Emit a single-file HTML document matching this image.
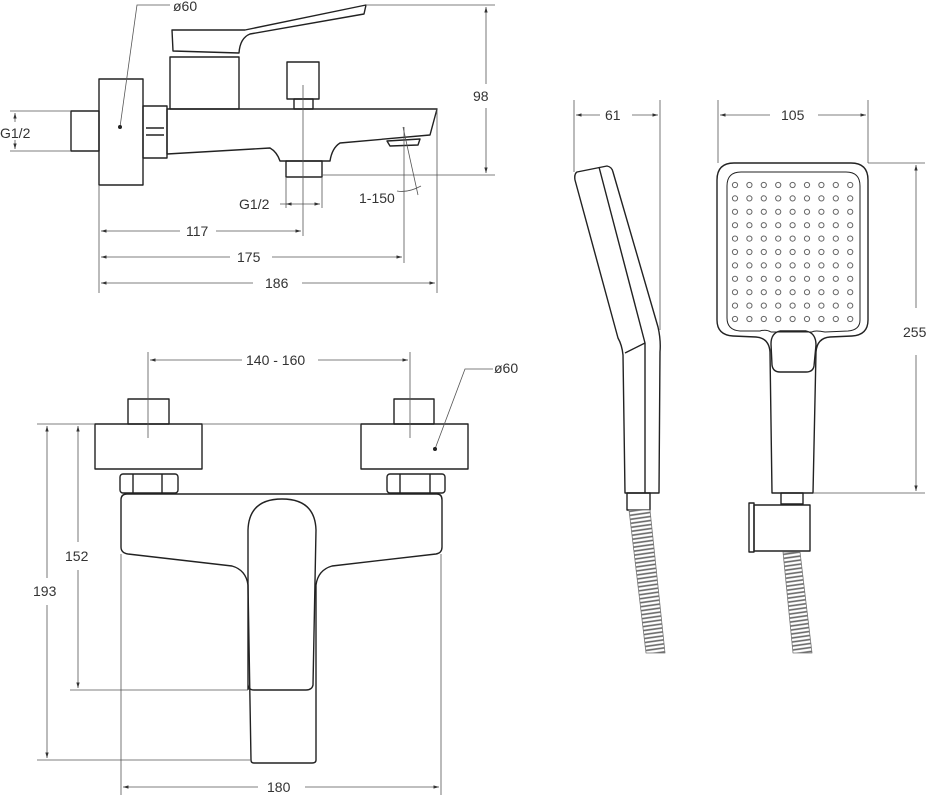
<!DOCTYPE html>
<html><head><meta charset="utf-8"><style>
html,body{margin:0;padding:0;background:#fff;}
svg{display:block;}
text{font-family:"Liberation Sans",sans-serif;font-size:14px;fill:#333;}
</style></head><body>
<svg width="930" height="802" viewBox="0 0 930 802" xmlns="http://www.w3.org/2000/svg">
<defs>
<marker id="a" viewBox="0 0 10 10" refX="10" refY="5" markerWidth="7" markerHeight="7" orient="auto-start-reverse"><path d="M0,2 L10,5 L0,8 z" fill="#333"/></marker>
<pattern id="coil" width="6" height="4" patternUnits="userSpaceOnUse" patternTransform="rotate(-8)"><rect width="6" height="4" fill="#fff"/><line x1="0" y1="2" x2="6" y2="2" stroke="#666" stroke-width="1.6"/></pattern>
</defs>
<g fill="none" stroke="#222" stroke-width="1.4" stroke-linejoin="round">
<rect x="71" y="111" width="28" height="40"/>
<rect x="99" y="79" width="44" height="106"/>
<rect x="143" y="106" width="24" height="52"/>
<line x1="146" y1="128" x2="164" y2="128"/><line x1="146" y1="135" x2="164" y2="135"/>
<path d="M167,109 L437,109 L430,135 L340,143 Q332,148 330,161 L280,161 Q277,152 270,148 L167,154 Z"/>
<rect x="286" y="161" width="36" height="16"/>
<path d="M387,141 L420,139 L418,145 L390,146 Z"/>
<rect x="170" y="57" width="69" height="52"/>
<path d="M172,30 L245,30 L366,5 L364,14 L250,34 Q240,38 239,53 L173,51 Z"/>
<rect x="287" y="62" width="32" height="37"/>
<rect x="294" y="99" width="19" height="10"/>
<rect x="128" y="399" width="41" height="25"/>
<rect x="95" y="424" width="107" height="45"/>
<rect x="394" y="399" width="40" height="25"/>
<rect x="361" y="424" width="107" height="45"/>
<rect x="120" y="474" width="58" height="19" rx="3"/>
<line x1="133" y1="474" x2="133" y2="493"/><line x1="162" y1="474" x2="162" y2="493"/>
<rect x="387" y="474" width="58" height="19" rx="3"/>
<line x1="400" y1="474" x2="400" y2="493"/><line x1="430" y1="474" x2="430" y2="493"/>
<path d="M125,494 L437,494 Q442,494 442,500 L442,547 Q442,553 436,554 L332,566 Q318,570 316,585 L316,760 Q316,763 312,763 L254,763 Q251,763 251,760 L248,585 Q246,570 232,566 L128,554 Q121,553 121,547 L121,500 Q121,494 127,494 Z"/>
<path d="M248,690 L248,530 Q249,499 282,499 Q315,499 316,530 L313,685 Q312,690 306,690 L254,690 Q248,690 248,684"/>
<path d="M577,172 L607,166 Q612,167 613,172 L658,327 Q661,340 660,352 L659,493 L625,493 L623,355 Q622,345 618,338 L575,180 Q574,174 577,172 Z"/>
<path d="M599,167 L645,343 L645,493"/><line x1="625" y1="353" x2="645" y2="343"/>
<rect x="627" y="493" width="23" height="17"/>
<polygon points="629,510 650,510 665,653 646,653" fill="url(#coil)" stroke="#777" stroke-width="0.8"/>
<path d="M734,163 L851,163 Q868,163 868,180 L868,320 Q868,335 852,336 L830,337 Q817,338 816,352 L813,493 L772,493 L770,352 Q769,338 756,337 L733,336 Q717,335 717,320 L717,180 Q717,163 734,163 Z"/>
<path d="M741,172 L846,172 Q860,172 860,186 L860,320 Q860,330 848,331 L825,332 Q815,330 812,332 L771,332 Q766,329 760,331 L740,331 Q727,330 727,318 L727,186 Q727,172 741,172 Z" stroke-width="1"/>
<path d="M780,331 L806,331 Q816,333 816,345 L814,366 Q813,372 806,372 L780,372 Q773,372 772,365 L771,344 Q771,333 780,331 Z"/>
<rect x="781" y="493" width="22" height="11"/>
<rect x="749" y="503" width="5" height="49"/>
<rect x="754" y="505" width="56" height="46"/>
<polygon points="783,552 800,552 812,653 793,653" fill="url(#coil)" stroke="#777" stroke-width="0.8"/>
</g>
<g fill="none" stroke="#666" stroke-width="1">
<g id="row">
<circle cx="735" cy="185" r="2.6"/><circle cx="749.4" cy="185" r="2.6"/><circle cx="763.8" cy="185" r="2.6"/><circle cx="778.2" cy="185" r="2.6"/><circle cx="792.6" cy="185" r="2.6"/><circle cx="807" cy="185" r="2.6"/><circle cx="821.4" cy="185" r="2.6"/><circle cx="835.8" cy="185" r="2.6"/><circle cx="850.2" cy="185" r="2.6"/>
</g>
<use href="#row" y="13.4"/><use href="#row" y="26.8"/><use href="#row" y="40.2"/><use href="#row" y="53.6"/><use href="#row" y="67"/><use href="#row" y="80.4"/><use href="#row" y="93.8"/><use href="#row" y="107.2"/><use href="#row" y="120.6"/><use href="#row" y="134"/>
</g>
<g stroke="#555" stroke-width="0.8" fill="none">
<line x1="367" y1="5" x2="495" y2="5"/><line x1="322" y1="175" x2="495" y2="175"/>
<line x1="486" y1="7" x2="486" y2="84" marker-start="url(#a)"/><line x1="486" y1="108" x2="486" y2="173" marker-end="url(#a)"/>
<line x1="10" y1="111" x2="71" y2="111"/><line x1="10" y1="151" x2="71" y2="151"/>
<line x1="15" y1="113" x2="15" y2="122" marker-start="url(#a)"/><line x1="15" y1="140" x2="15" y2="149" marker-end="url(#a)"/>
<polyline points="120,127 137,5 170,5"/>
<line x1="286" y1="177" x2="286" y2="208"/><line x1="322" y1="177" x2="322" y2="208"/>
<line x1="280" y1="204" x2="320" y2="204" marker-end="url(#a)"/><line x1="292" y1="204" x2="286" y2="204" marker-end="url(#a)"/>
<line x1="403" y1="127" x2="418" y2="195"/><path d="M397,191 Q408,193 421,186"/>
<line x1="303" y1="85" x2="303" y2="236"/><line x1="404" y1="127" x2="404" y2="263"/>
<line x1="437" y1="109" x2="437" y2="293"/><line x1="99" y1="185" x2="99" y2="293"/>
<line x1="101" y1="231" x2="180" y2="231" marker-start="url(#a)"/><line x1="216" y1="231" x2="301" y2="231" marker-end="url(#a)"/>
<line x1="101" y1="257" x2="230" y2="257" marker-start="url(#a)"/><line x1="272" y1="257" x2="402" y2="257" marker-end="url(#a)"/>
<line x1="101" y1="283" x2="253" y2="283" marker-start="url(#a)"/><line x1="302" y1="283" x2="435" y2="283" marker-end="url(#a)"/>
<line x1="148" y1="352" x2="148" y2="438"/><line x1="410" y1="352" x2="410" y2="438"/>
<line x1="150" y1="360" x2="242" y2="360" marker-start="url(#a)"/><line x1="318" y1="360" x2="408" y2="360" marker-end="url(#a)"/>
<polyline points="435,449 465,369 493,369"/>
<line x1="37" y1="424" x2="95" y2="424"/><line x1="202" y1="424" x2="361" y2="424"/>
<line x1="37" y1="760" x2="251" y2="760"/><line x1="70" y1="690" x2="248" y2="690"/>
<line x1="47" y1="426" x2="47" y2="578" marker-start="url(#a)"/><line x1="47" y1="605" x2="47" y2="758" marker-end="url(#a)"/>
<line x1="78" y1="426" x2="78" y2="542" marker-start="url(#a)"/><line x1="78" y1="570" x2="78" y2="688" marker-end="url(#a)"/>
<line x1="121" y1="554" x2="121" y2="795"/><line x1="441" y1="554" x2="441" y2="795"/>
<line x1="123" y1="787" x2="258" y2="787" marker-start="url(#a)"/><line x1="305" y1="787" x2="439" y2="787" marker-end="url(#a)"/>
<line x1="574" y1="100" x2="574" y2="172"/><line x1="660" y1="100" x2="660" y2="330"/>
<line x1="576" y1="115" x2="600" y2="115" marker-start="url(#a)"/><line x1="632" y1="115" x2="658" y2="115" marker-end="url(#a)"/>
<line x1="718" y1="100" x2="718" y2="163"/><line x1="868" y1="100" x2="868" y2="163"/>
<line x1="720" y1="115" x2="770" y2="115" marker-start="url(#a)"/><line x1="818" y1="115" x2="866" y2="115" marker-end="url(#a)"/>
<line x1="868" y1="163" x2="925" y2="163"/><line x1="813" y1="493" x2="925" y2="493"/>
<line x1="916" y1="165" x2="916" y2="308" marker-start="url(#a)"/><line x1="916" y1="355" x2="916" y2="491" marker-end="url(#a)"/>
</g>
<g fill="#222"><circle cx="120" cy="127" r="2"/><circle cx="435" cy="449" r="2"/></g>
<g>
<text x="173" y="11">ø60</text>
<text x="473" y="101">98</text>
<text x="0" y="138">G1/2</text>
<text x="239" y="209">G1/2</text>
<text x="359" y="203">1-150</text>
<text x="186" y="236">117</text>
<text x="237" y="262">175</text>
<text x="265" y="288">186</text>
<text x="246" y="365">140 - 160</text>
<text x="494" y="373">ø60</text>
<text x="65" y="561">152</text>
<text x="33" y="596">193</text>
<text x="267" y="792">180</text>
<text x="605" y="120">61</text>
<text x="781" y="120">105</text>
<text x="903" y="337">255</text>
</g>
</svg>
</body></html>
